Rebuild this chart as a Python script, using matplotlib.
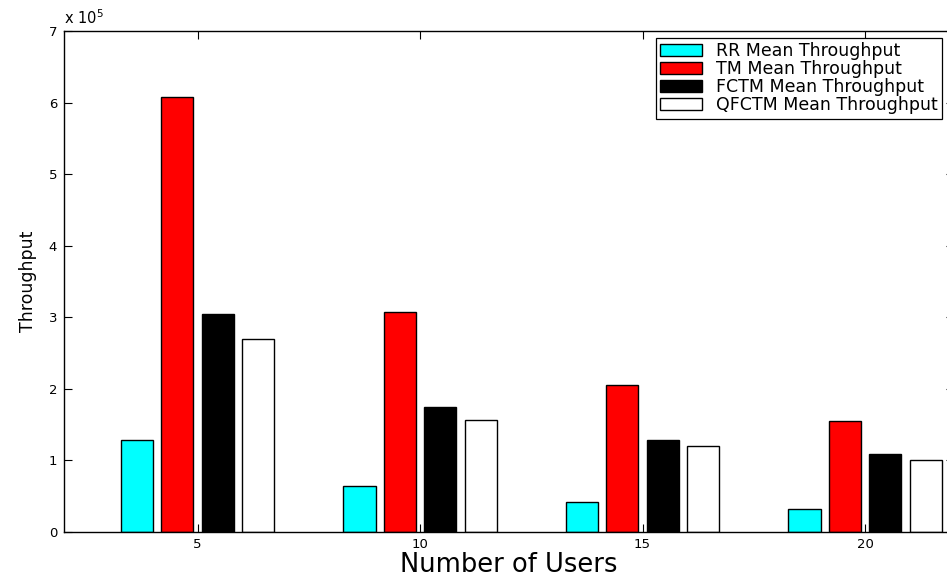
import numpy as np
import matplotlib
matplotlib.use("Agg")
import matplotlib.pyplot as plt
from matplotlib.ticker import FuncFormatter

users = [5, 10, 15, 20]
rr_mean = [1.28e5, 0.64e5, 0.42e5, 0.32e5]
tm_mean = [6.08e5, 3.08e5, 2.06e5, 1.55e5]
fctm_mean = [3.04e5, 1.74e5, 1.28e5, 1.09e5]
qfctm_mean = [2.69e5, 1.57e5, 1.20e5, 1.01e5]

labels = ["RR Mean Throughput", "TM Mean Throughput",
          "FCTM Mean Throughput", "QFCTM Mean Throughput"]
colors = ["#00ffff", "#ff0000", "#000000", "#ffffff"]

W, H = 947, 579
fig = plt.figure(figsize=(W / 100, H / 100), dpi=100)
# axes box in pixels (right spine falls just outside the picture)
left, right, top, bottom = 64, 954, 31, 532
ax = fig.add_axes([left / W, 1 - bottom / H, (right - left) / W, (bottom - top) / H])

# matlab style grouped bars
slot = 5 * (4 / 5.5) / 4
width = 0.8 * slot
x = np.array(users, dtype=float)
series = [rr_mean, tm_mean, fctm_mean, qfctm_mean]
for i, (vals, col, lab) in enumerate(zip(series, colors, labels)):
    ax.bar(x + (i - 1.5) * slot, vals, width, color=col, edgecolor="black",
           linewidth=1.0, label=lab, zorder=2)

ax.set_xlim(2, 22)
ax.set_ylim(0, 7e5)
ax.set_xticks(users)
ax.set_yticks(np.arange(0, 8) * 1e5)
ax.yaxis.set_major_formatter(FuncFormatter(lambda v, p: "%g" % (v / 1e5)))

ax.tick_params(direction="in", length=6, width=0.8, top=True, right=True,
               labelsize=9.5, colors="black")
ax.tick_params(axis="y", pad=5)
ax.tick_params(axis="x", pad=4)
for sp in ax.spines.values():
    sp.set_linewidth(1.0)
    sp.set_color("black")

ax.text(0.0, 1.0 + (top - 24) / (bottom - top), r"x 10$^{5}$",
        transform=ax.transAxes, fontsize=10.5, ha="left", va="baseline")

ax.set_xlabel("Number of Users", fontsize=18.5)
ax.xaxis.label.set_verticalalignment("baseline")
ax.xaxis.set_label_coords(0.5, -(571.5 - bottom) / (bottom - top))
ax.set_ylabel("Throughput", fontsize=12.5)
ax.yaxis.set_label_coords((37 - left) / (right - left), 0.5)

leg = ax.legend(loc="upper right", bbox_to_anchor=(942 / W, 1 - 38 / H),
                bbox_transform=fig.transFigure, borderaxespad=0,
                fontsize=12.5, fancybox=False, framealpha=1,
                edgecolor="black", borderpad=0.25, labelspacing=0.0,
                handlelength=2.4, handleheight=0.7, handletextpad=0.8)
leg.get_frame().set_linewidth(0.9)

fig.savefig("out.png", dpi=100)
